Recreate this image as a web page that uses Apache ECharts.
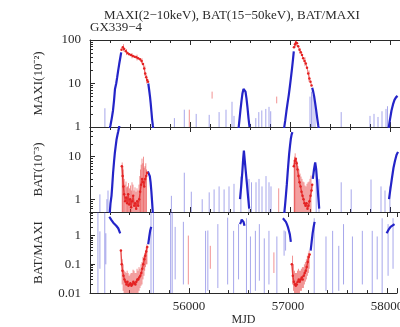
<!DOCTYPE html>
<html>
<head>
<meta charset="utf-8">
<script src="https://cdn.jsdelivr.net/npm/echarts@6/dist/echarts.min.js"></script>
<style>
html, body { margin: 0; padding: 0; background: #fff; }
#lc { width: 400px; height: 327px; }
</style>
</head>
<body>
<div id="lc"></div>
<script>
// MJD tick labels shown under the bottom panel (last one runs off the right edge)
let xTicks = [56000, 57000];
let xTicksCut = [58000];
let decadeLabels = { '-2': '0.01', '-1': '0.1', '0': '1', '1': '10', '2': '100' };

// MAXI 2-10 keV: [mjd, flux]; null breaks a track
let maxiBlue = [
  [55190, 0.8], [55205, 1.1], [55218, 1.6], [55230, 2.4], [55240, 4], [55250, 7.5], [55262, 10], [55272, 14], [55282, 20], [55292, 28], [55302, 38], [55312, 52], null,
  [55583, 10], [55592, 7], [55600, 5], [55607, 3.5], [55614, 2.3], [55621, 1.5], [55628, 1.1], [55636, 0.8], null,
  [56485, 0.9], [56495, 1.5], [56505, 2.5], [56515, 4], [56525, 6], [56535, 7.5], [56545, 7.8], [56555, 6.5], [56565, 4.5], [56575, 2.8], [56585, 1.6], [56595, 1], null,
  [56940, 0.9], [56952, 1.4], [56964, 2.3], [56976, 3.6], [56988, 5.5], [57000, 9], [57010, 14], [57020, 22], [57030, 36], [57038, 55], null,
  [57222, 8], [57232, 6.5], [57242, 5], [57252, 3.5], [57262, 2.4], [57272, 1.6], [57282, 1.1], [57292, 0.8], null,
  [57985, 0.9], [58000, 1.5], [58015, 2.4], [58030, 3.3], [58045, 4.2], [58060, 4.8], [58075, 5.2]
];
let maxiRed = [
  [55315, 60], [55328, 68], [55342, 62], [55358, 55], [55375, 50], [55392, 47], [55410, 45], [55428, 43], [55446, 41], [55464, 40], [55482, 38], [55500, 36], [55516, 33], [55530, 28], [55542, 22], [55552, 17], [55562, 14], [55572, 12], [55580, 11], null,
  [57040, 68], [57050, 80], [57060, 88], [57070, 84], [57082, 72], [57095, 60], [57108, 52], [57120, 45], [57132, 38], [57145, 33], [57158, 29], [57170, 23], [57182, 17], [57194, 13], [57205, 11], [57215, 9]
];
// error bars: [mjd, low, high]
let maxiBlueBars = [
  [55149, 0.5, 2.7], [55844, 0.5, 1.6], [55943, 0.5, 2.5], [56062, 0.5, 2], [56192, 0.5, 1.9], [56291, 0.5, 2.2], [56360, 0.5, 2.5], [56420, 0.5, 3.8], [56440, 0.5, 1.8],
  [56658, 0.5, 1.6], [56688, 0.5, 2.2], [56718, 0.5, 2.4], [56758, 0.5, 2.6], [56790, 0.5, 2.9], [56807, 0.5, 2.3], [57200, 0.5, 5], [57215, 0.5, 6.5], [57230, 0.5, 5.5], [57250, 0.5, 4],
  [57512, 0.5, 2.2], [57800, 0.5, 1.8], [57840, 0.5, 2], [57880, 0.5, 1.7], [57920, 0.5, 2.3], [57960, 0.5, 2.6], [57975, 0.5, 3]
];
let maxiRedBars = [
  [55335, 55, 80], [55365, 45, 62], [55420, 38, 50], [55470, 34, 46], [55520, 28, 38], [55548, 15, 26], [55566, 10, 16],
  [55993, 0.5, 2.5], [56221, 4.5, 6.5], [56867, 3.5, 5], [57055, 70, 100], [57100, 48, 66], [57150, 25, 40], [57190, 11, 20]
];

// BAT 15-50 keV
let batBlue = [
  [55195, 0.4], [55205, 0.8], [55215, 1.2], [55222, 2], [55231, 4.2], [55240, 7.5], [55248, 12], [55256, 17], [55265, 25], [55273, 31], [55281, 38], [55290, 48], [55298, 62], null,
  [55578, 4.5], [55588, 4.2], [55598, 3.5], [55606, 2.5], [55614, 1.5], [55622, 0.8], [55630, 0.4], null,
  [56500, 1], [56512, 2], [56522, 4], [56532, 9], [56539, 14], [56546, 9], [56556, 5], [56568, 2.5], [56580, 1.2], [56592, 0.6], null,
  [56940, 0.4], [56950, 0.7], [56960, 1.3], [56968, 2.2], [56976, 4], [56984, 7], [56992, 12], [57000, 18], [57008, 26], [57016, 33], [57024, 38], null,
  [57228, 3], [57240, 5], [57252, 7.3], [57262, 5], [57272, 2.5], [57282, 1.2], [57292, 0.6], null,
  [57990, 1], [58005, 1.8], [58020, 3.2], [58035, 5.5], [58050, 8], [58065, 11], [58080, 13]
];
let batRed = [
  [55318, 6], [55326, 3.5], [55334, 2], [55342, 1.3], [55352, 0.9], [55362, 1.1], [55372, 0.8], [55382, 1.3], [55392, 0.75], [55402, 1], [55412, 0.65], [55422, 0.9], [55432, 1.2], [55442, 0.7],
  [55452, 0.8], [55462, 0.6], [55472, 0.9], [55482, 0.7], [55492, 1], [55502, 1.5], [55512, 2.2], [55522, 3], [55532, 2.5], [55542, 2], [55552, 3], [55562, 3.5], [55572, 4.2], null,
  [57038, 6], [57048, 8], [57058, 9], [57066, 7], [57075, 5], [57085, 3.5], [57095, 2.5], [57105, 2], [57115, 1.5], [57125, 1.2], [57135, 1], [57145, 0.8], [57155, 0.7], [57165, 0.8],
  [57175, 0.6], [57185, 0.7], [57195, 0.9], [57205, 1.2], [57215, 1.6], [57222, 2.2]
];
let batBlueBars = [
  [55099, 0.5, 1.3], [55169, 0.5, 1], [55180, 0.5, 1.6], [55814, 0.5, 1.2], [55943, 0.5, 4.2], [56013, 0.5, 1.5], [56122, 0.5, 1], [56192, 0.5, 1.45], [56241, 0.5, 1.7], [56291, 0.5, 2],
  [56341, 0.5, 1.7], [56390, 0.5, 2], [56440, 0.5, 2.3], [56509, 0.5, 3.4], [56590, 0.5, 3], [56615, 0.5, 2.5], [56660, 0.5, 2.5], [56690, 0.5, 3], [56720, 0.5, 2], [56760, 0.5, 3.5],
  [56790, 0.5, 2.5], [56810, 0.5, 2], [57262, 0.5, 6], [57290, 0.5, 3], [57512, 0.5, 2.5], [57612, 0.5, 1.7], [57810, 0.5, 2.9], [57910, 0.5, 2], [57950, 0.5, 1.6], [57999, 0.5, 2]
];
let batRedBars = [
  [55322, 0.5, 7.3], [55328, 0.5, 6], [55332, 0.5, 5], [55342, 0.5, 3], [55350, 0.5, 2.2], [55360, 0.5, 2.6], [55368, 0.5, 1.9], [55375, 0.5, 2], [55385, 0.5, 2.4], [55395, 0.5, 1.8],
  [55405, 0.5, 2.1], [55413, 0.5, 1.6], [55420, 0.5, 2.5], [55430, 0.5, 2.2], [55440, 0.5, 1.6], [55450, 0.5, 1.9], [55460, 0.5, 1.5], [55470, 0.5, 1.8], [55480, 0.5, 1.6],
  [55490, 0.5, 2.2], [55498, 0.5, 3.5], [55505, 0.5, 5], [55512, 0.5, 6.5], [55520, 0.5, 9], [55528, 0.5, 7], [55535, 0.5, 10], [55542, 0.5, 5.5], [55550, 0.5, 6], [55558, 0.5, 7],
  [55565, 0.5, 5], [56887, 0.5, 1.8], [57042, 0.5, 8], [57045, 0.5, 10], [57052, 0.5, 12], [57060, 0.5, 9], [57070, 0.5, 8], [57080, 0.5, 6], [57090, 0.5, 5], [57100, 0.5, 4],
  [57110, 0.5, 3.4], [57120, 0.5, 3], [57130, 0.5, 2.6], [57140, 0.5, 2.5], [57150, 0.5, 2.1], [57160, 0.5, 2], [57170, 0.5, 2.3], [57180, 0.5, 2.5], [57190, 0.5, 2.6], [57200, 0.5, 3],
  [57210, 0.5, 3.6]
];

// BAT/MAXI ratio
let ratioBlue = [
  [55195, 4.5], [55205, 4], [55215, 3.5], [55225, 3], [55235, 2.8], [55245, 2.5], [55255, 2.4], [55265, 2.2], [55275, 2], [55285, 1.8], [55295, 1.6], [55305, 1.2], null,
  [55588, 0.5], [55598, 0.9], [55608, 1.5], [55618, 2], null,
  [56515, 2.5], [56525, 3], [56532, 3.6], [56540, 3.8], [56550, 3], [56560, 2.2], null,
  [56948, 4], [56958, 3.8], [56968, 3.5], [56978, 3], [56988, 2.5], [56998, 2], [57008, 1.5], [57018, 1.1], [57028, 0.6], null,
  [57228, 0.3], [57238, 0.6], [57248, 1.2], [57258, 2], [57268, 3], null,
  [57995, 1.2], [58015, 1.6], [58035, 2], [58055, 2.3], [58075, 2.5]
];
let ratioRed = [
  [55312, 0.3], [55320, 0.1], [55328, 0.06], [55338, 0.04], [55348, 0.03], [55358, 0.025], [55368, 0.02], [55378, 0.025], [55388, 0.018], [55398, 0.02], [55408, 0.022], [55418, 0.018],
  [55428, 0.02], [55438, 0.025], [55448, 0.022], [55458, 0.02], [55468, 0.025], [55478, 0.03], [55488, 0.03], [55498, 0.035], [55508, 0.04], [55518, 0.05], [55528, 0.07], [55538, 0.1],
  [55548, 0.15], [55558, 0.2], [55568, 0.28], [55578, 0.4], null,
  [57038, 0.1], [57048, 0.04], [57058, 0.025], [57068, 0.02], [57078, 0.018], [57088, 0.02], [57098, 0.025], [57108, 0.03], [57118, 0.025], [57128, 0.03], [57138, 0.035], [57148, 0.03],
  [57158, 0.04], [57168, 0.05], [57178, 0.06], [57188, 0.08], [57198, 0.12], [57208, 0.18], [57218, 0.22]
];
let ratioBlueBars = [
  [55080, 0.01, 6.6], [55100, 0.07, 1.4], [55149, 0.01, 6.6], [55160, 0.1, 1.2], [55616, 0.01, 6.6], [55640, 0.01, 6.6], [55814, 0.01, 6.6], [55830, 0.01, 6.6], [55860, 0.03, 2], [55943, 0.02, 3],
  [56167, 0.01, 1.46], [56190, 0.012, 1.5], [56291, 0.015, 2.5], [56390, 0.02, 4.2], [56450, 0.01, 1.46], [56500, 0.03, 2.5], [56580, 0.01, 4], [56620, 0.01, 0.93], [56670, 0.012, 1.46],
  [56710, 0.027, 2.5], [56760, 0.01, 0.8], [56807, 0.02, 1.46], [56887, 0.01, 0.93], [56960, 0.2, 1.5], [56975, 0.3, 1.4], [57264, 0.01, 4], [57383, 0.012, 0.93], [57450, 0.01, 1.46],
  [57512, 0.012, 0.44], [57560, 0.02, 2.5], [57650, 0.01, 0.93], [57750, 0.02, 1.46], [57850, 0.01, 1.46], [57900, 0.03, 0.93], [57950, 0.01, 4], [58010, 0.04, 2.5], [58060, 0.07, 4]
];
let ratioRedBars = [
  [55325, 0.02, 0.15], [55335, 0.012, 0.1], [55345, 0.01, 0.06], [55355, 0.01, 0.055], [55365, 0.01, 0.05], [55375, 0.01, 0.06], [55385, 0.01, 0.05], [55395, 0.01, 0.04],
  [55405, 0.01, 0.045], [55415, 0.01, 0.05], [55425, 0.01, 0.05], [55435, 0.01, 0.065], [55445, 0.01, 0.06], [55455, 0.01, 0.05], [55465, 0.01, 0.05], [55475, 0.01, 0.07],
  [55485, 0.01, 0.06], [55495, 0.012, 0.08], [55505, 0.015, 0.07], [55515, 0.018, 0.1], [55525, 0.02, 0.12], [55535, 0.03, 0.18], [55545, 0.04, 0.2], [55552, 0.06, 0.25],
  [55560, 0.08, 0.3], [55568, 0.1, 0.4], [55575, 0.1, 0.5], [55993, 0.02, 1], [56215, 0.07, 0.44], [56857, 0.05, 0.26], [57045, 0.02, 0.2], [57055, 0.012, 0.1],
  [57065, 0.01, 0.06], [57075, 0.01, 0.05], [57085, 0.01, 0.05], [57095, 0.01, 0.06], [57105, 0.01, 0.07], [57115, 0.01, 0.06], [57125, 0.012, 0.06], [57135, 0.012, 0.07],
  [57145, 0.015, 0.08], [57155, 0.015, 0.08], [57165, 0.02, 0.1], [57175, 0.025, 0.12], [57185, 0.03, 0.15], [57195, 0.04, 0.2], [57205, 0.05, 0.25], [57213, 0.07, 0.3]
];

let serif = 'Liberation Serif';
let ink = '#2a2a2a';
let blue = '#2424c8', red = '#e42222';
let blueBar = 'rgba(60,60,210,0.45)', redBar = 'rgba(230,40,40,0.5)';

let chart = echarts.init(document.getElementById('lc'));

// thin vertical error bar
let barItem = (params, api) => {
  let a = api.coord([api.value(0), api.value(1)]);
  let b = api.coord([api.value(0), api.value(2)]);
  return {
    type: 'line',
    shape: { x1: a[0], y1: a[1], x2: b[0], y2: b[1] },
    style: { stroke: api.visual('color'), lineWidth: 1 }
  };
};

let track = (arr) => arr.map((p) => p ? p : ['-', '-']);

let xAx = (grid, pos, labels) => ({
  type: 'value', gridIndex: grid, position: pos, min: 55000, max: 58100, interval: 1000,
  axisLine: { show: true, onZero: false, lineStyle: { color: ink, width: 1 } },
  axisTick: { show: true, inside: true, length: 5, lineStyle: { color: ink } },
  minorTick: { show: true, splitNumber: 5, length: 3, lineStyle: { color: ink } },
  splitLine: { show: false },
  axisLabel: {
    show: labels, margin: 7, fontFamily: serif, fontSize: 13, color: ink,
    formatter: (v) => xTicks.indexOf(v) >= 0 ? String(v) : ''
  },
  name: labels ? 'MJD' : '', nameLocation: 'middle', nameGap: 19,
  nameTextStyle: { fontFamily: serif, fontSize: 12, color: ink }
});

let yAx = (grid, min, max, name) => ({
  type: 'log', logBase: 10, gridIndex: grid, min: min, max: max,
  axisLine: { show: true, lineStyle: { color: ink, width: 1 } },
  axisTick: { show: true, inside: true, length: 5, lineStyle: { color: ink } },
  minorTick: { show: true, splitNumber: 9, length: 3, lineStyle: { color: ink } },
  splitLine: { show: false },
  axisLabel: {
    margin: 9, fontFamily: serif, fontSize: 13, color: ink,
    formatter: (v) => {
      let e = Math.round(Math.log10(v));
      return Math.abs(Math.log10(v) - e) < 1e-6 && decadeLabels[e] ? decadeLabels[e] : '';
    }
  },
  name: name, nameLocation: 'middle', nameRotate: 90, nameGap: 45,
  nameTextStyle: { fontFamily: serif, fontSize: 13, color: ink }
});

let panel = (i, blueTrack, redTrack, bBars, rBars, redWidth) => [
  { type: 'custom', xAxisIndex: i * 2, yAxisIndex: i, renderItem: barItem, data: bBars, clip: true,
    itemStyle: { color: blueBar }, encode: { x: 0, y: [1, 2] }, silent: true },
  { type: 'custom', xAxisIndex: i * 2, yAxisIndex: i, renderItem: barItem, data: rBars, clip: true,
    itemStyle: { color: redBar }, encode: { x: 0, y: [1, 2] }, silent: true },
  { type: 'line', xAxisIndex: i * 2, yAxisIndex: i, data: track(blueTrack), connectNulls: false,
    symbol: 'none', lineStyle: { color: blue, width: 2.2 }, itemStyle: { color: blue }, silent: true, z: 3 },
  { type: 'line', xAxisIndex: i * 2, yAxisIndex: i, data: track(redTrack), connectNulls: false,
    symbol: 'circle', symbolSize: 2.5, lineStyle: { color: red, width: redWidth, opacity: 0.8 }, itemStyle: { color: red }, silent: true, z: 3 }
];

let option = {
  animation: false,
  backgroundColor: '#fff',
  graphic: [
    { type: 'text', left: 104, top: 9, style: { text: 'MAXI(2\u221210keV), BAT(15\u221250keV), BAT/MAXI', font: '13px "Liberation Serif"', fill: ink } },
    { type: 'text', left: 90, top: 21, style: { text: 'GX339\u22124', font: '13px "Liberation Serif"', fill: ink } }
  ],
  grid: [
    { left: 90, right: -2, top: 40, height: 87 },
    { left: 90, right: -2, top: 127, height: 85 },
    { left: 90, right: -2, top: 212, height: 86 }
  ],
  xAxis: [
    xAx(0, 'bottom', false), xAx(0, 'top', false),
    xAx(1, 'bottom', false), xAx(1, 'top', false),
    xAx(2, 'bottom', true), xAx(2, 'top', false)
  ],
  yAxis: [
    yAx(0, 1, 100, 'MAXI(10\u207B\u00B2)'),
    yAx(1, 0.5, 50, 'BAT(10\u207B\u00B3)'),
    yAx(2, 0.01, 6.6, 'BAT/MAXI')
  ],
  series: [].concat(
    panel(0, maxiBlue, maxiRed, maxiBlueBars, maxiRedBars, 0.8),
    panel(1, batBlue, batRed, batBlueBars, batRedBars, 1.4),
    panel(2, ratioBlue, ratioRed, ratioBlueBars, ratioRedBars, 1.4)
  )
};

option && chart.setOption(option);

// tick labels past the right edge: place them at their axis position and let the canvas cut them
let yBase = chart.convertToPixel({ yAxisIndex: 2 }, 0.01);
let cutLabels = xTicksCut.map((v) => ({
  type: 'text', x: chart.convertToPixel({ xAxisIndex: 4 }, v), y: yBase + 7,
  style: { text: String(v), font: '13px "Liberation Serif"', fill: ink, align: 'center', verticalAlign: 'top' }
}));
chart.setOption({ graphic: option.graphic.concat(cutLabels) });

window.addEventListener('resize', chart.resize);
</script>
</body>
</html>
